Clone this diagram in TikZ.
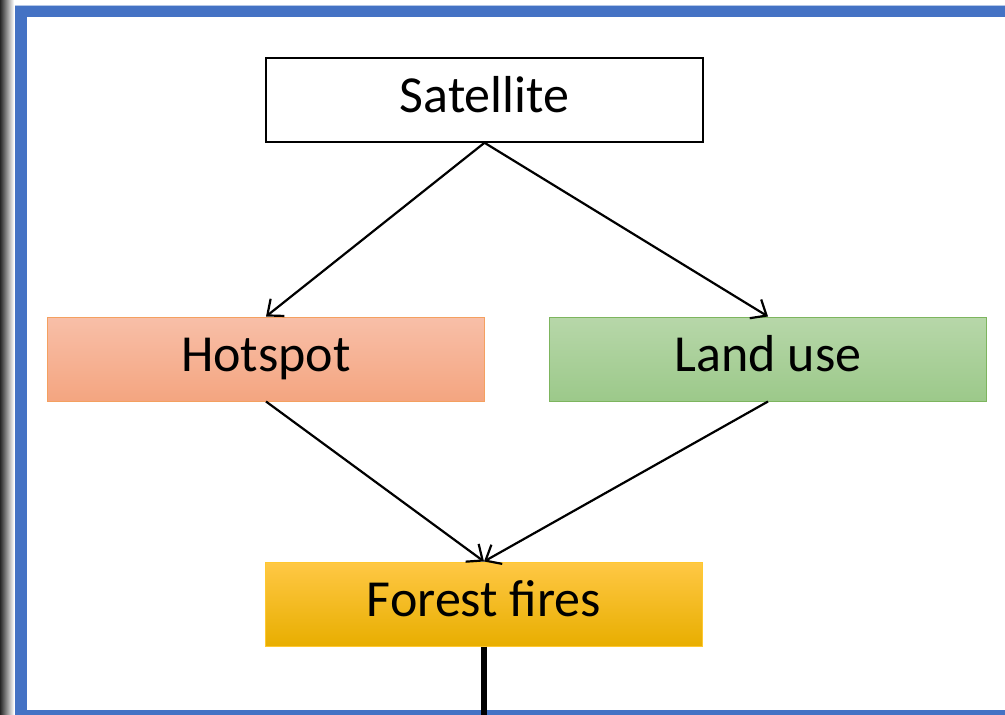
\documentclass[tikz,border=0pt]{standalone}
\usepackage{fontspec}
\setmainfont{Carlito}
\usetikzlibrary{arrows.meta}
\definecolor{frameblue}{HTML}{4472C4}
\definecolor{hotTop}{HTML}{F8BFA8}
\definecolor{hotBot}{HTML}{F4A580}
\definecolor{hotBorder}{HTML}{F4A060}
\definecolor{landTop}{HTML}{B7D7A9}
\definecolor{landBot}{HTML}{9CC98A}
\definecolor{landBorder}{HTML}{7DB55E}
\definecolor{ffTop}{HTML}{FFC845}
\definecolor{ffMid}{HTML}{FFC000}
\definecolor{ffBot}{HTML}{E8AE00}
\definecolor{ffBorder}{HTML}{FFC830}
\tikzset{
  box/.style={rectangle, minimum width=437pt, minimum height=84pt, inner sep=0pt,
    text height=36pt, text depth=12pt,
    font=\fontsize{52}{60}\selectfont, line width=1pt},
  arr/.style={line width=2.2pt, -{Straight Barb[length=13pt,width=22pt]}},
}
\begin{document}
\begin{tikzpicture}[x=1pt,y=-1pt]
\useasboundingbox (0,0) rectangle (1005,715);
\fill[white] (0,0) rectangle (1005,715);
% left shadow
\shade[left color=black!85, right color=white] (0,0) rectangle (14,715);
% blue frame
\fill[frameblue] (15,5) rectangle (1005,17);
\fill[frameblue] (15,5) rectangle (27,715);
\fill[frameblue] (15,710) rectangle (1005,715);
\draw[frameblue!40, line width=0.8pt] (15,5.4) -- (1005,5.4);
% nodes
\node[box, draw=black, line width=1.5pt, fill=white] (sat) at (484.5,100) {Satellite};
\node[box, draw=hotBorder, top color=hotTop, bottom color=hotBot] (hot) at (266,359) {Hotspot};
\node[box, draw=landBorder, top color=landTop, bottom color=landBot] (land) at (768,359) {Land use};
\node[box, draw=ffBorder, top color=ffTop, middle color=ffMid, bottom color=ffBot] (ff) at (484,604) {Forest fires};
\coordinate (bot) at (484,715);
% connectors
\draw[arr] (sat.south) -- (hot.north);
\draw[arr] (sat.south) -- (land.north);
\draw[arr] (hot.south) -- (ff.north);
\draw[arr] (land.south) -- (ff.north);
\draw[line width=6.5pt] (ff.south) -- (bot);
\end{tikzpicture}
\end{document}
